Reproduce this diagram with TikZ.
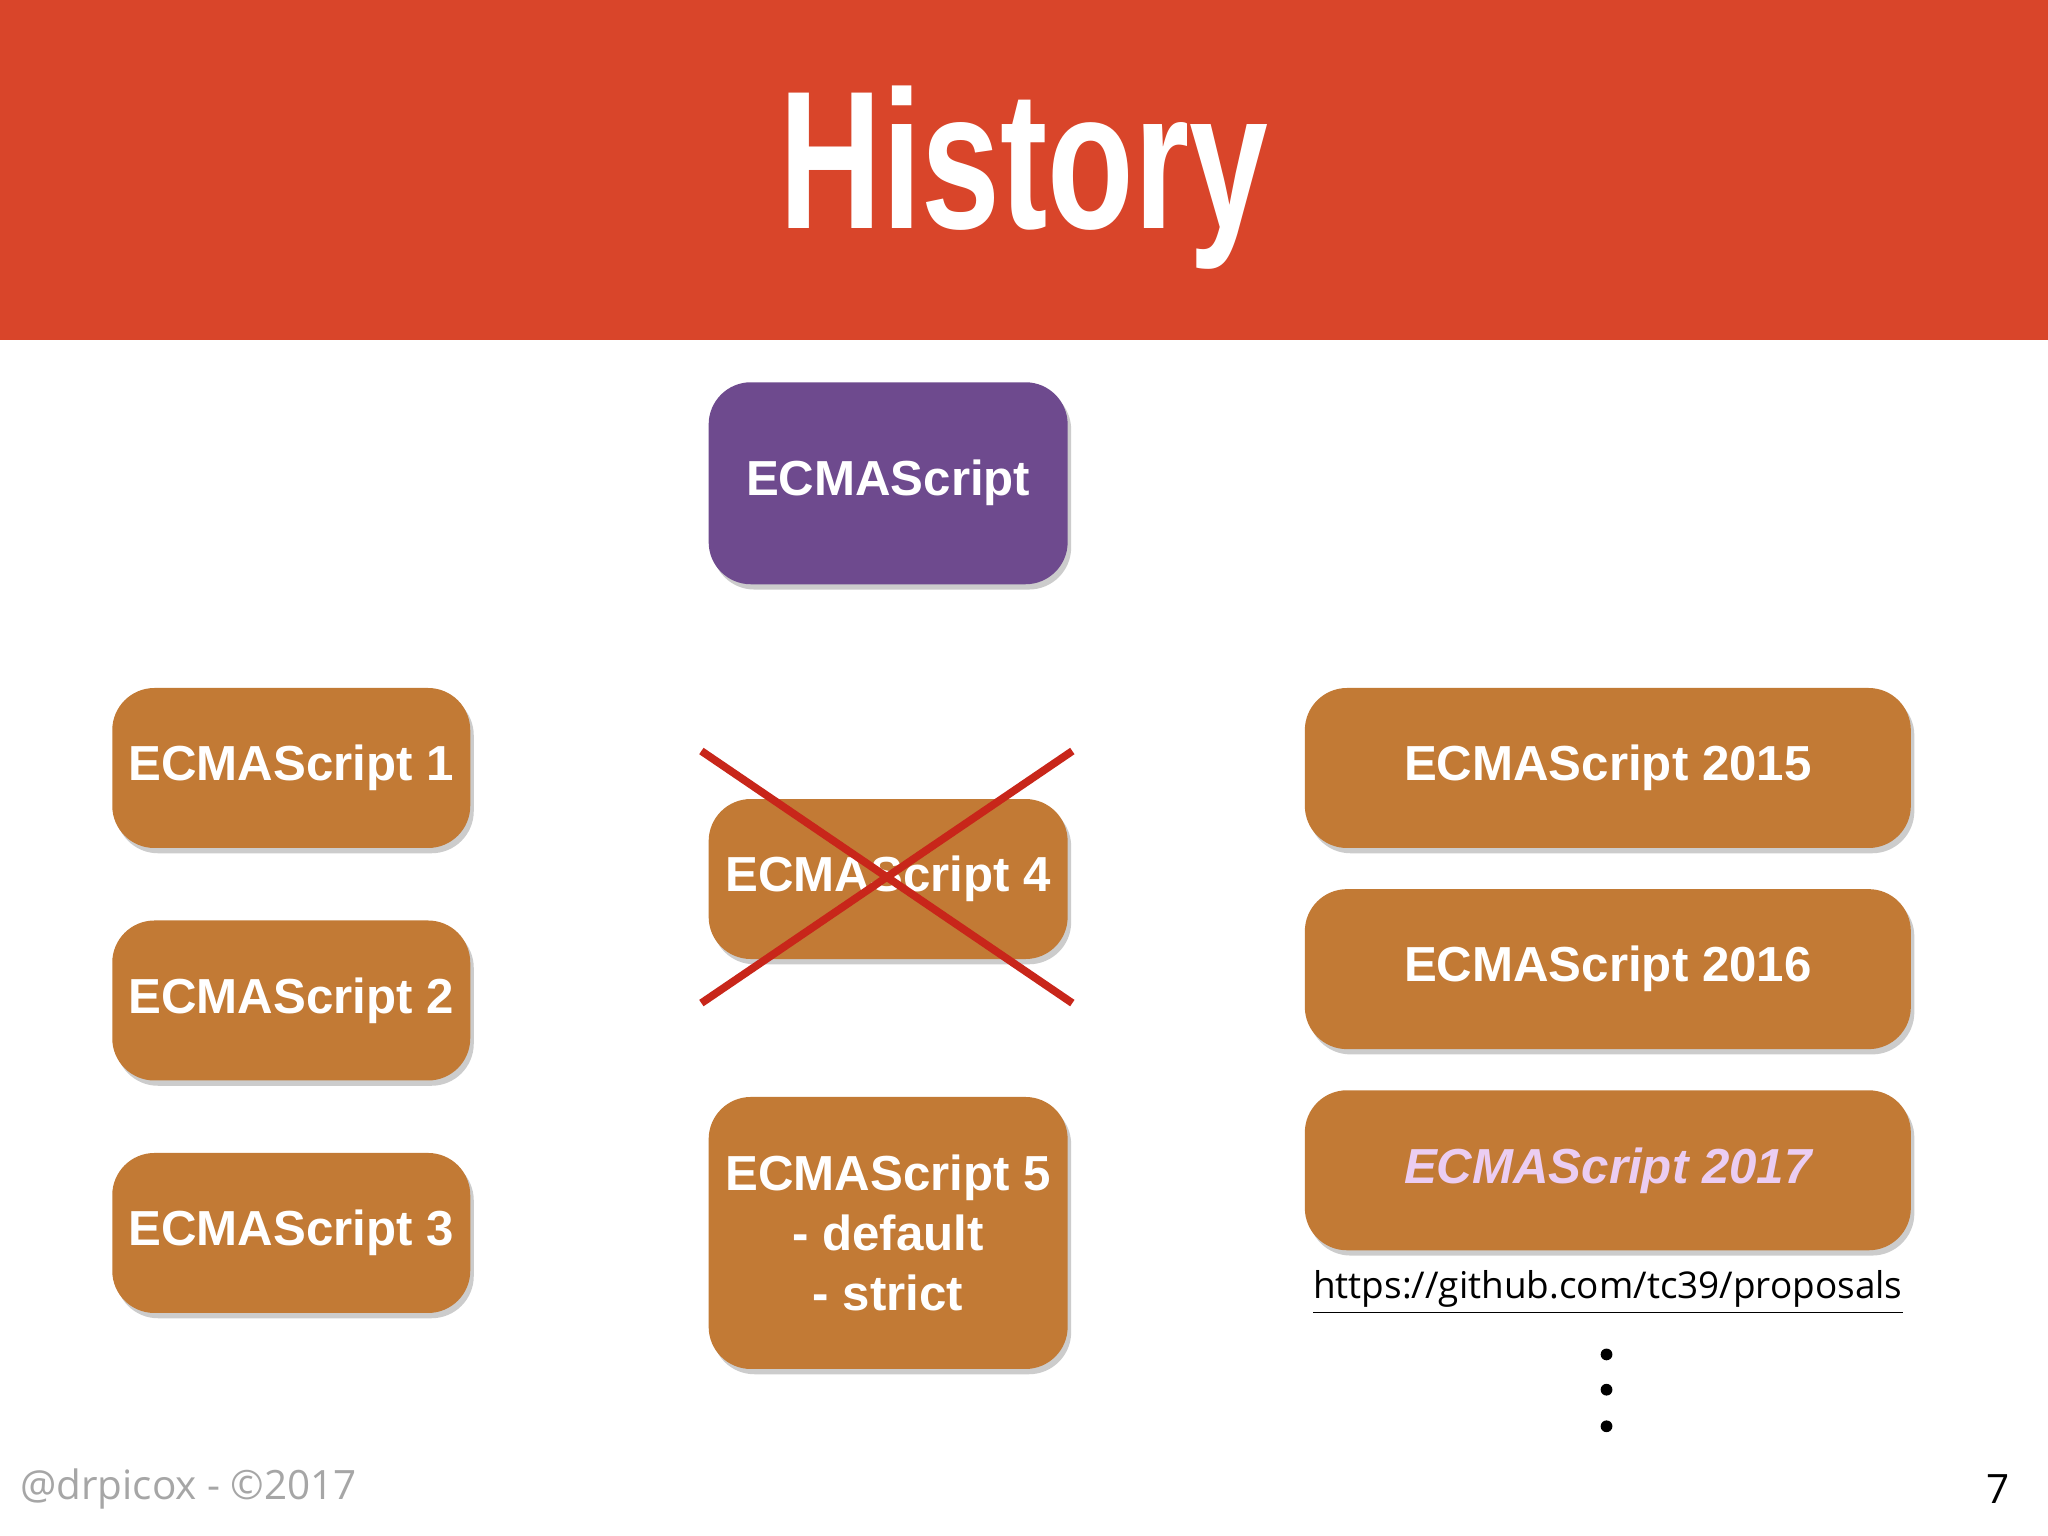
\documentclass[tikz,border=0pt]{standalone}
\usepackage{fontspec}
\setmainfont{Liberation Sans}
\newfontfamily\urlfont{Open Sans}
\usetikzlibrary{positioning,shadows}
\definecolor{headred}{HTML}{D9452A}
\definecolor{esorange}{HTML}{C27A35}
\definecolor{espurple}{HTML}{6E4A8E}
\definecolor{crossred}{HTML}{C8261A}
\definecolor{newpink}{HTML}{EBCDF2}
\tikzset{
  esbox/.style={rounded corners=12pt, fill=esorange, text=white, font=\fontsize{14}{17}\selectfont\bfseries,
    align=center, drop shadow={shadow xshift=1pt, shadow yshift=-1.5pt, opacity=0.4}},
}
\begin{document}
\begin{tikzpicture}[x=0.013061cm, y=-0.013061cm]
    \useasboundingbox (0,0) rectangle (1568,1176);
    \fill[white] (0,0) rectangle (1568,1176);
    \fill[headred] (0,0) rectangle (1568,260);
    \node[text=white, font=\fontsize{56}{60}\selectfont\bfseries] (title) at (784,136) {\scalebox{0.72}[1]{History}};

    \node[esbox, fill=espurple, minimum width=3.59cm, minimum height=2.02cm] (es) at (680,370) {ECMAScript};

    \node[esbox, minimum width=3.58cm, minimum height=1.6cm] (es1) at (223,588) {ECMAScript 1};
    \node[esbox, minimum width=3.58cm, minimum height=1.6cm] (es2) at (223,766) {ECMAScript 2};
    \node[esbox, minimum width=3.58cm, minimum height=1.6cm] (es3) at (223,944) {ECMAScript 3};

    \node[esbox, minimum width=3.59cm, minimum height=1.6cm] (es4) at (680,673) {ECMAScript 4};
    \node[esbox, minimum width=3.59cm, minimum height=2.72cm] (es5) at (680,944) {ECMAScript 5\\- default\\- strict};

    \node[esbox, minimum width=6.06cm, minimum height=1.6cm] (es15) at (1231,588) {ECMAScript 2015};
    \node[esbox, minimum width=6.06cm, minimum height=1.6cm] (es16) at (1231,742) {ECMAScript 2016};
    \node[esbox, minimum width=6.06cm, minimum height=1.6cm, text=newpink, font=\fontsize{14}{17}\selectfont\bfseries\itshape] (es17) at (1231,896) {ECMAScript 2017};

    % crossed out
    \coordinate (xa) at (537,575);
    \coordinate (xb) at (821,768);
    \coordinate (xc) at (537,768);
    \coordinate (xd) at (821,575);
    \draw[crossred, line width=2.2pt] (xa) -- (xb);
    \draw[crossred, line width=2.2pt] (xc) -- (xd);

    \node[font=\urlfont\fontsize{10.5}{12}\selectfont, below=2pt of es17] (url) {\underline{https://github.com/tc39/proposals}};
    \foreach \y [count=\i] in {1037,1064,1092}
      \fill (1230,\y) circle (4.5) coordinate (dot\i);

    \node[anchor=west, text=gray!70, font=\urlfont\fontsize{11.5}{13}\selectfont] (foot) at (6,1140) {@drpicox - ©2017};
    \node[font=\urlfont\fontsize{11.5}{13}\selectfont] (page) at (1530,1140) {7};
\end{tikzpicture}
\end{document}
